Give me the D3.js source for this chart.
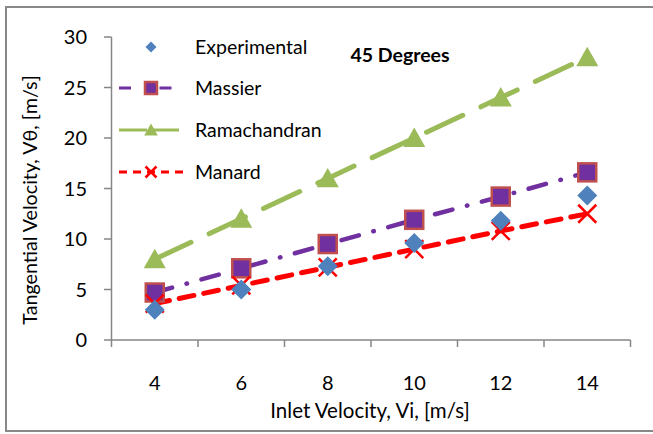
<!DOCTYPE html>
<html><head><meta charset="utf-8">
<script src="https://cdn.jsdelivr.net/npm/d3@7"></script>
<style>body{margin:0;background:#fff}svg{display:block}</style>
</head><body>
<svg id="c" width="653" height="434"></svg>
<script>
const categories = [4, 6, 8, 10, 12, 14];
const experimental = [3.0, 5.0, 7.3, 9.6, 11.8, 14.3];
const massier = [4.7, 7.1, 9.5, 11.9, 14.2, 16.6];
const ramachandran = [8, 12, 16, 20, 24, 28];
const manard = [3.6, 5.4, 7.2, 9.0, 10.8, 12.5];
const yTicks = [0, 5, 10, 15, 20, 25, 30];
const seriesNames = ["Experimental", "Massier", "Ramachandran", "Manard"];
const chartTitle = "45 Degrees";
const xTitle = "Inlet Velocity, Vi, [m/s]";
const yTitle = "Tangential Velocity, Vθ, [m/s]";

const FONT = "Lato, 'Open Sans', sans-serif";
const svg = d3.select("#c");
svg.append("rect").attr("x", 6).attr("y", 7).attr("width", 660).attr("height", 424)
  .attr("fill", "#fff").attr("stroke", "#888").attr("stroke-width", 2);

const x = d3.scaleBand().domain(categories).range([111.5, 630.5]).padding(0);
const y = d3.scaleLinear().domain([0, 30]).range([340, 37]);
const cx = d => x(d) + x.bandwidth() / 2;

// axes
const axisColor = "#868686";
const gx = svg.append("g").attr("transform", "translate(0,340)");
gx.append("line").attr("x1", 111.5).attr("x2", 630.5).attr("stroke", axisColor).attr("stroke-width", 1.5);
const bounds = categories.map(c => x(c)).concat([x(categories[categories.length - 1]) + x.bandwidth()]);
gx.selectAll("line.t").data(bounds).join("line").attr("class", "t")
  .attr("x1", d => d).attr("x2", d => d).attr("y1", 0).attr("y2", 7)
  .attr("stroke", axisColor).attr("stroke-width", 1.5);
gx.selectAll("text").data(categories).join("text")
  .attr("x", d => cx(d)).attr("y", 50).attr("text-anchor", "middle")
  .attr("font-family", FONT).attr("font-size", 20).attr("fill", "#000").text(d => d);

const gy = svg.append("g");
gy.append("line").attr("x1", 111.5).attr("x2", 111.5).attr("y1", y(30)).attr("y2", y(0))
  .attr("stroke", axisColor).attr("stroke-width", 1.5);
gy.selectAll("line.t").data(yTicks).join("line").attr("class", "t")
  .attr("x1", 104).attr("x2", 111.5).attr("y1", d => y(d)).attr("y2", d => y(d))
  .attr("stroke", axisColor).attr("stroke-width", 1.5);
gy.selectAll("text").data(yTicks).join("text")
  .attr("x", 87).attr("y", d => y(d)).attr("dy", "0.36em").attr("text-anchor", "end")
  .attr("font-family", FONT).attr("font-size", 20).attr("fill", "#000").text(d => d);

// titles
svg.append("text").attr("x", 370).attr("y", 418).attr("text-anchor", "middle")
  .attr("font-family", FONT).attr("font-size", 20.5).text(xTitle);
svg.append("text").attr("transform", "translate(37,200) rotate(-90)").attr("text-anchor", "middle")
  .attr("font-family", FONT).attr("font-size", 19.7).text(yTitle);
svg.append("text").attr("x", 400).attr("y", 62).attr("text-anchor", "middle")
  .attr("font-family", FONT).attr("font-size", 19.5).attr("font-weight", "bold").text(chartTitle);

// series styles
const styles = {
  Massier: {color: "#7030A0", width: 4.5, dash: "18,15,0.5,15"},
  Ramachandran: {color: "#9BBB59", width: 5, dash: "40,20"},
  Manard: {color: "#FF0000", width: 5, dash: "15,10"}
};
const line = d3.line().x(d => cx(d[0])).y(d => y(d[1]));
const zipd = vals => categories.map((c, i) => [c, vals[i]]);
const plot = svg.append("g");
[["Massier", massier], ["Ramachandran", ramachandran], ["Manard", manard]].forEach(([n, v]) => {
  const s = styles[n];
  plot.append("path").datum(zipd(v)).attr("d", line).attr("fill", "none")
    .attr("stroke", s.color).attr("stroke-width", s.width).attr("stroke-dasharray", s.dash)
    .attr("stroke-linecap", "round");
});

function marker(g, type, px, py, r) {
  if (type === "square") {
    g.append("rect").attr("x", px - r).attr("y", py - r).attr("width", 2 * r).attr("height", 2 * r)
      .attr("fill", "#7030A0").attr("stroke", "#C0504D").attr("stroke-width", 2.5);
  } else if (type === "triangle") {
    g.append("path").attr("d", `M${px},${py - r}L${px + r * 1.05},${py + r * 0.85}L${px - r * 1.05},${py + r * 0.85}Z`)
      .attr("fill", "#9BBB59");
  } else if (type === "x") {
    g.append("path").attr("d", `M${px - r},${py - r}L${px + r},${py + r}M${px + r},${py - r}L${px - r},${py + r}`)
      .attr("stroke", "#FF0000").attr("stroke-width", 2.5).attr("fill", "none");
  } else if (type === "diamond") {
    g.append("path").attr("d", `M${px},${py - r}L${px + r},${py}L${px},${py + r}L${px - r},${py}Z`)
      .attr("fill", "#4F81BD");
  }
}
const mk = plot.append("g");
zipd(massier).forEach(d => marker(mk, "square", cx(d[0]), y(d[1]), 9));
zipd(ramachandran).forEach(d => marker(mk, "triangle", cx(d[0]), y(d[1]), 10.5));
zipd(manard).forEach(d => marker(mk, "x", cx(d[0]), y(d[1]), 9));
zipd(experimental).forEach(d => marker(mk, "diamond", cx(d[0]), y(d[1]), 10));

// legend
const legendY = [47, 88, 130, 172];
const legendTypes = ["diamond", "square", "triangle", "x"];
const lg = svg.append("g");
seriesNames.forEach((n, i) => {
  const ly = legendY[i];
  if (styles[n]) {
    const s = styles[n];
    const ld = n === "Massier" ? "12,14,0.5,14" : n === "Manard" ? "8,6" : "28,4";
    lg.append("line").attr("x1", 119).attr("x2", 183).attr("y1", ly).attr("y2", ly)
      .attr("stroke", s.color).attr("stroke-width", 3).attr("stroke-dasharray", ld)
      .attr("stroke-linecap", "butt");
  }
  const r = {diamond: 5.5, square: 6, triangle: 6.5, x: 5.5}[legendTypes[i]];
  marker(lg, legendTypes[i], 151, ly, r);
  lg.append("text").attr("x", 195).attr("y", ly).attr("dy", "0.36em")
    .attr("font-family", FONT).attr("font-size", 19.5).text(n);
});
</script>
</body></html>
